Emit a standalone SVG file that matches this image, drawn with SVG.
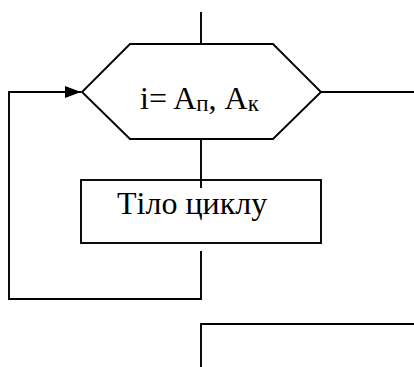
<svg xmlns="http://www.w3.org/2000/svg" width="414" height="367" viewBox="0 0 414 367">
<style>
.ln{fill:none;stroke:#000;stroke-width:1.9}
.sh{fill:#fff;stroke:#000;stroke-width:1.9}
.t{font-family:"Liberation Serif","Times New Roman",serif;font-size:32px;fill:#000}
.s{font-size:23px}
</style>
<defs>
<marker id="arr" markerUnits="userSpaceOnUse" markerWidth="17" markerHeight="14" refX="16" refY="7" orient="auto">
<path d="M0,1 L16,7 L0,13 Z" fill="#000"/>
</marker>
</defs>
<g id="connectors">
<path class="ln" d="M201,12 V44"/>
<path class="ln" d="M321,92 H414"/>
<path class="ln" d="M201,139 V188"/>
<path class="ln" d="M201,251 V299 H9 V92 H81" marker-end="url(#arr)"/>
<path class="ln" d="M414,324 H201 V367"/>
</g>
<g id="loop">
<polygon class="sh" points="130,44 273,44 321,92 273,139 130,139 82,92"/>
<text class="t" x="140" y="109">i= A<tspan class="s" dy="2">п</tspan><tspan dy="-2">, A</tspan><tspan class="s" dy="2">к</tspan></text>
</g>
<g id="body">
<rect class="sh" x="81" y="180" width="240" height="63" fill="none"/>
<path class="ln" d="M201,180 V188"/>
<text class="t" x="117" y="214">Тіло циклу</text>
</g>
</svg>
